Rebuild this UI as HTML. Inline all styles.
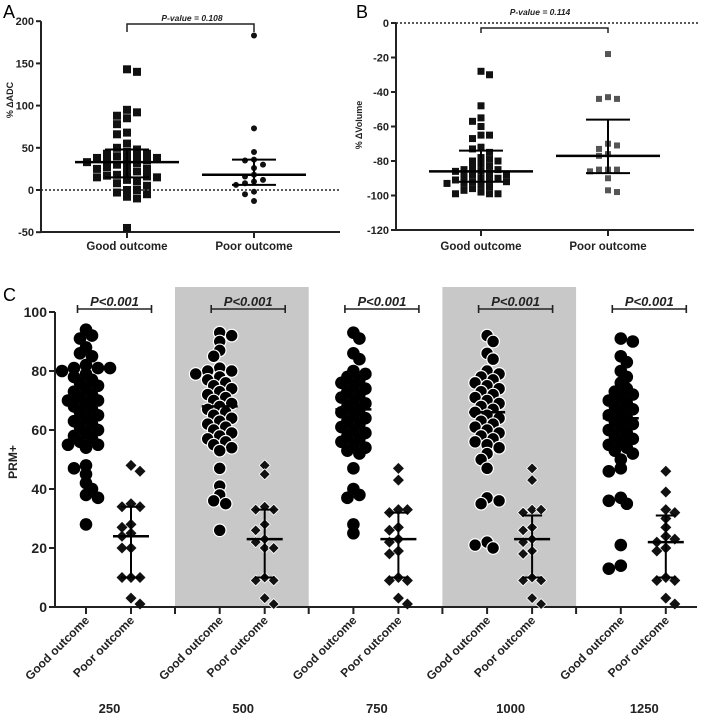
<!DOCTYPE html>
<html><head><meta charset="utf-8"><style>
html,body{margin:0;padding:0;background:#fff;}
svg{display:block;font-family:"Liberation Sans",Arial,sans-serif;}
</style></head><body>
<svg id="fig" width="708" height="723" viewBox="0 0 708 723" xmlns="http://www.w3.org/2000/svg"></svg>
<script>
// ---- Panel A data (% ΔADC) ----
const aCategories = ["Good outcome","Poor outcome"];
const aTicks = [200,150,100,50,0,-50];
const aGood = [143,140,95,92,88,85,78,68,66,55,50,48,45,43,43,40,40,38,38,37,35,35,33,32,30,28,27,25,25,22,20,18,17,16,15,15,12,10,8,5,0,0,-3,-5,-8,-10,-45];
const aPoor = [183,73,45,36,35,30,26,18,16,12,10,8,6,-2,-5,-13];
const aMedian = [33,18];
const aQ1 = [15,6];
const aQ3 = [48,36];
const aPText = "P-value = 0.108";
// ---- Panel B data (% ΔVolume) ----
const bTicks = [0,-20,-40,-60,-80,-100,-120];
const bGood = [-28,-30,-48,-55,-57,-60,-65,-65,-67,-72,-73,-75,-78,-79,-80,-80,-82,-83,-84,-85,-85,-86,-86,-87,-88,-88,-89,-90,-90,-91,-91,-92,-92,-93,-93,-94,-95,-96,-97,-98,-99,-99,-99];
const bPoor = [-18,-43,-44,-44,-70,-71,-73,-76,-77,-85,-85,-85,-86,-90,-97,-98];
const bMedian = [-86,-77];
const bQ1 = [-92,-87];
const bQ3 = [-74,-56];
const bPText = "P-value = 0.114";
// ---- Panel C data (PRM+) ----
const cGroups = ["250","500","750","1000","1250"];
const cTicks = [100,80,60,40,20,0];
const cGood250 = [94,92,91,88,86,85,82,81,81,81,80,79,78,77,76,75,74,73,72,71,70,70,69,68,67,66,65,64,63,62,61,60,59,58,57,56,55,55,54,48,47,45,42,40,38,37,28];
const cGood500 = [93,92,90,87,85,81,80,80,79,78,77,76,75,74,73,72,71,70,69,68,67,66,65,64,63,62,61,60,59,58,57,56,55,54,53,47,41,38,36,35,26];
const cGood750 = [93,91,86,84,80,79,78,77,76,75,74,73,72,71,70,69,68,67,66,65,64,63,62,61,60,59,58,57,56,55,54,53,52,47,40,38,37,28,25];
const cGood1000 = [92,90,86,84,80,79,78,77,76,75,74,73,72,71,70,69,68,67,66,65,64,63,62,61,60,59,58,57,56,55,54,52,50,47,37,36,35,22,21,20];
const cGood1250 = [91,90,85,83,80,78,76,74,73,72,71,70,69,68,67,66,65,64,63,62,61,60,59,58,57,56,55,54,53,52,50,47,46,37,36,35,21,14,13];
const cPoor250 = [48,46,35,34,34,28,27,25,24,20,20,10,10,10,3,1];
const cPoor500 = [48,45,34,33,33,28,26,23,22,20,20,10,9,9,3,1];
const cPoor750 = [47,43,33,33,32,27,26,23,22,19,18,10,9,9,3,1];
const cPoor1000 = [47,43,33,33,32,27,26,23,22,19,18,10,9,9,3,1];
const cPoor1250 = [46,39,33,32,30,27,24,23,22,20,19,10,9,9,3,1];
const cGoodMedian = [70,68,67,66,64];
const cPoorMedian = [24,23,23,23,22];
const cPoorQ1 = [10,10,10,10,10];
const cPoorQ3 = [34,33,32,31,31];
const cPText = "P<0.001";

const NS = "http://www.w3.org/2000/svg";
const svg = document.getElementById('fig');
function mk(tag, attrs, parent){
  const e = document.createElementNS(NS, tag);
  for (const k in attrs) e.setAttribute(k, attrs[k]);
  (parent||svg).appendChild(e);
  return e;
}
function swarm(vals, cx, ys, diam, step){
  const placed = [];
  const xs = [];
  let flip = 1;
  vals.forEach(v=>{
    const y = ys(v);
    let k = 0, x = cx;
    flip = -flip;
    while (true){
      const off = k===0?0:(k%2?flip:-flip)*Math.ceil(k/2)*step;
      x = cx+off;
      if (!placed.some(p=>Math.hypot(p[0]-x,p[1]-y)<diam)) break;
      k++;
      if (k>40) break;
    }
    placed.push([x,y]);
    xs.push([x,y]);
  });
  return xs;
}
function text(str, attrs, parent){
  const t = mk('text', attrs, parent);
  t.textContent = str;
  return t;
}
function errBar(g, cx, yMed, yQ1, yQ3, hw, cap, sw){
  const m = mk('line',{x1:cx-hw,x2:cx+hw,y1:yMed,y2:yMed,stroke:'#000','stroke-width':sw},g);
  
  
  if (yQ1!==null){
    const v = mk('line',{x1:cx,x2:cx,y1:yQ1,y2:yQ3,stroke:'#000','stroke-width':2},g);
    
    
    const c1 = mk('line',{x1:cx-cap,x2:cx+cap,y1:yQ1,y2:yQ1,stroke:'#000','stroke-width':2},g);
    
    
    const c2 = mk('line',{x1:cx-cap,x2:cx+cap,y1:yQ3,y2:yQ3,stroke:'#000','stroke-width':2},g);
    
    
  }
}

// ================= Panel A =================
(function(){
  const g = mk('g',{});
  
  
  const y = v => 190 - v*42.2/50;
  const xs = [127,254];
  const L = text('A',{x:3,y:18,'font-size':18,fill:'#000'},g);
  
  
  const ax = mk('path',{d:`M41 ${y(200)} V232 H340`,fill:'none',stroke:'#222','stroke-width':2},g);
  
  
  aTicks.forEach(t=>{
    const tk = mk('line',{x1:36,x2:41,y1:y(t),y2:y(t),stroke:'#222','stroke-width':2},g);
    
    
    const tl = text(String(t),{x:34,y:y(t)+4,'text-anchor':'end','font-size':11,'font-weight':'bold',fill:'#222'},g);
    
    
  });
  const zl = mk('line',{x1:41,x2:340,y1:y(0),y2:y(0),stroke:'#222','stroke-width':1.5,'stroke-dasharray':'2,2'},g);
  
  
  const yt = text('% ΔADC',{x:0,y:0,transform:'translate(13,100) rotate(-90)','text-anchor':'middle','font-size':9,'font-weight':'bold',fill:'#222'},g);
  
  
  aCategories.forEach((c,i)=>{
    const tk = mk('line',{x1:xs[i],x2:xs[i],y1:232,y2:238,stroke:'#222','stroke-width':2},g);
    
    
    const cl = text(c,{x:xs[i],y:250,'text-anchor':'middle','font-size':11.5,'font-weight':'bold',fill:'#222'},g);
    
    
  });
  swarm(aGood,xs[0],y,6,10).forEach(p=>{
    const r = mk('rect',{x:p[0]-4,y:p[1]-4,width:8,height:8,fill:'#111'},g);
    
    
  });
  swarm(aPoor,xs[1],y,5.5,9).forEach(p=>{
    const r = mk('circle',{cx:p[0],cy:p[1],r:3,fill:'#111'},g);
    
    
  });
  [0,1].forEach(i=>errBar(g,xs[i],y(aMedian[i]),y(aQ1[i]),y(aQ3[i]),52,22,2.5));
  const br = mk('path',{d:`M${xs[0]} 32 V24 H${xs[1]} V32`,fill:'none',stroke:'#222','stroke-width':1.5},g);
  
  
  const pt = text(aPText,{x:192,y:21,'text-anchor':'middle','font-size':8.5,'font-style':'italic','font-weight':'bold',fill:'#222'},g);
  
  
})();

// ================= Panel B =================
(function(){
  const g = mk('g',{});
  
  
  const y = v => 23 - v*207/120;
  const xs = [481,608];
  const L = text('B',{x:356,y:18,'font-size':18,fill:'#000'},g);
  
  
  const ax = mk('path',{d:`M396 ${y(0)} V${y(-120)} H694`,fill:'none',stroke:'#222','stroke-width':2},g);
  
  
  bTicks.forEach(t=>{
    const tk = mk('line',{x1:391,x2:396,y1:y(t),y2:y(t),stroke:'#222','stroke-width':2},g);
    
    
    const tl = text(String(t),{x:389,y:y(t)+4,'text-anchor':'end','font-size':11,'font-weight':'bold',fill:'#222'},g);
    
    
  });
  const zl = mk('line',{x1:396,x2:700,y1:y(0),y2:y(0),stroke:'#222','stroke-width':1.5,'stroke-dasharray':'2,2'},g);
  
  
  const yt = text('% ΔVolume',{x:0,y:0,transform:'translate(362,125) rotate(-90)','text-anchor':'middle','font-size':9,'font-weight':'bold',fill:'#222'},g);
  
  
  aCategories.forEach((c,i)=>{
    const tk = mk('line',{x1:xs[i],x2:xs[i],y1:230,y2:236,stroke:'#222','stroke-width':2},g);
    
    
    const cl = text(c,{x:xs[i],y:250,'text-anchor':'middle','font-size':11.5,'font-weight':'bold',fill:'#222'},g);
    
    
  });
  swarm(bGood,xs[0],y,6.5,8.5).forEach(p=>{
    const r = mk('rect',{x:p[0]-3.5,y:p[1]-3.5,width:7,height:7,fill:'#111'},g);
    
    
  });
  swarm(bPoor,xs[1],y,6,9).forEach(p=>{
    const r = mk('rect',{x:p[0]-3,y:p[1]-3,width:6,height:6,fill:'#555'},g);
    
    
  });
  [0,1].forEach(i=>errBar(g,xs[i],y(bMedian[i]),y(bQ1[i]),y(bQ3[i]),52,22,2.5));
  const br = mk('path',{d:`M${xs[0]} 33 V28 H${xs[1]} V33`,fill:'none',stroke:'#222','stroke-width':1.5},g);
  
  
  const pt = text(bPText,{x:540,y:15,'text-anchor':'middle','font-size':8.5,'font-style':'italic','font-weight':'bold',fill:'#222'},g);
  
  
})();

// ================= Panel C =================
(function(){
  const g = mk('g',{});
  
  
  const y = v => 607 - v*2.95;
  const goods = [cGood250,cGood500,cGood750,cGood1000,cGood1250];
  const poors = [cPoor250,cPoor500,cPoor750,cPoor1000,cPoor1250];
  const sp = 133.7;
  const gx = i => 86 + i*sp;
  const px = i => 131 + i*sp;
  const sep = i => 175 + (i-1)*sp;
  const L = text('C',{x:3,y:301,'font-size':18,fill:'#000'},g);
  
  
  [1,3].forEach(i=>{
    const bg = mk('rect',{x:sep(i),y:287,width:sp,height:607-287,fill:'#c8c8c8'},g);
    
    
  });
  const ax = mk('path',{d:`M55 ${y(100)} V607 H697`,fill:'none',stroke:'#222','stroke-width':2},g);
  
  
  cTicks.forEach(t=>{
    const tk = mk('line',{x1:49,x2:55,y1:y(t),y2:y(t),stroke:'#222','stroke-width':2},g);
    
    
    const tl = text(String(t),{x:47,y:y(t)+5,'text-anchor':'end','font-size':14,'font-weight':'bold',fill:'#222'},g);
    
    
  });
  const yt = text('PRM+',{x:0,y:0,transform:'translate(17,462) rotate(-90)','text-anchor':'middle','font-size':12,'font-weight':'bold',fill:'#222'},g);
  
  
  [1,2,3,4].forEach(i=>{
    const tk = mk('line',{x1:sep(i),x2:sep(i),y1:607,y2:614,stroke:'#222','stroke-width':2},g);
    
    
  });
  cGroups.forEach((grp,i)=>{
    [[gx(i),'Good outcome'],[px(i),'Poor outcome']].forEach(([x,lab])=>{
      const tk = mk('line',{x1:x,x2:x,y1:607,y2:614,stroke:'#222','stroke-width':2},g);
      
      
      const cl = text(lab,{x:0,y:0,transform:`translate(${x+4},${621}) rotate(-45)`,'text-anchor':'end','font-size':12,'font-weight':'bold',fill:'#222'},g);
      
      
    });
    const gl = text(grp,{x:(gx(i)+px(i))/2+1,y:713,'text-anchor':'middle','font-size':13,'font-weight':'bold',fill:'#222'},g);
    
    
    const shaded = (i===1||i===3);
    swarm(goods[i],gx(i),y,7.5,6).forEach(p=>{
      const c = mk('circle',{cx:p[0],cy:p[1],r:6.3,fill:'#000',stroke:shaded?'#fff':'none','stroke-width':1.2},g);
      
      
    });
    swarm(poors[i],px(i),y,7,9).forEach(p=>{
      const d = mk('path',{d:`M${p[0]} ${p[1]-5.5} L${p[0]+5.5} ${p[1]} L${p[0]} ${p[1]+5.5} L${p[0]-5.5} ${p[1]} Z`,fill:'#111',stroke:shaded?'#fff':'none','stroke-width':0.8},g);
      
      
    });
    errBar(g,gx(i),y(cGoodMedian[i]),null,null,18,0,2.5);
    errBar(g,px(i),y(cPoorMedian[i]),y(cPoorQ1[i]),y(cPoorQ3[i]),18,10,2.5);
    const cxm = (gx(i)+px(i))/2+6;
    const br = mk('path',{d:`M${cxm-37} 305 V313 M${cxm-37} 309 H${cxm+37} M${cxm+37} 305 V313`,fill:'none',stroke:'#222','stroke-width':1.6},g);
    
    
    const pt = text(cPText,{x:cxm,y:306,'text-anchor':'middle','font-size':13,'font-style':'italic','font-weight':'bold',fill:'#222'},g);
    
    
  });
})();
</script>
</body></html>
